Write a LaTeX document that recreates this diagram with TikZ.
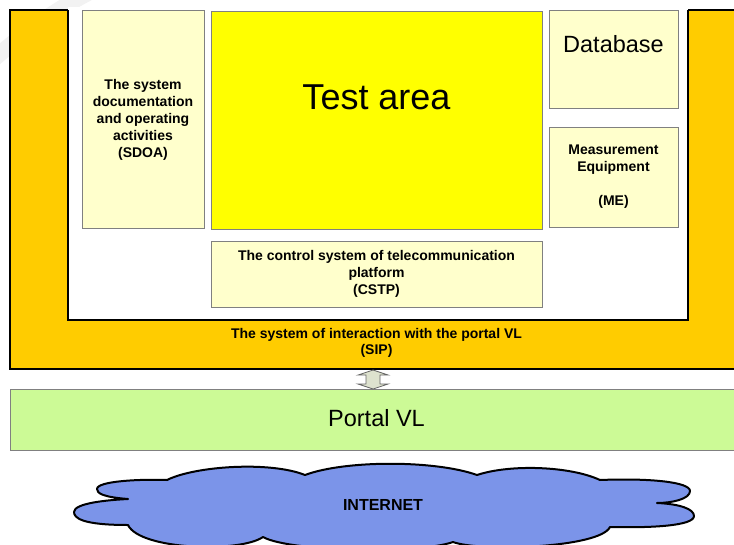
\documentclass[tikz,border=0pt]{standalone}
\usepackage{fontspec}
\setmainfont{Liberation Sans}
\usetikzlibrary{calc}
\definecolor{orangeSIP}{HTML}{FFCC00}
\definecolor{paleY}{HTML}{FFFFCC}
\definecolor{testY}{HTML}{FFFF00}
\definecolor{portalG}{HTML}{CCFA96}
\definecolor{cloudB}{HTML}{7B94E9}
\definecolor{arrowF}{HTML}{DDE2CE}
\definecolor{boxline}{HTML}{808080}
\begin{document}
\begin{tikzpicture}[x=1pt,y=-1pt,
  box/.style={draw=boxline, line width=0.8pt, fill=paleY, inner sep=0pt, align=center,
    font=\fontsize{14}{17}\selectfont\bfseries},
  boldtxt/.style={align=center, inner sep=0pt, font=\fontsize{14}{16}\selectfont\bfseries},
  frameline/.style={draw=black, line width=2pt}]
\useasboundingbox (0,0) rectangle (734,544);
\clip (0,0) rectangle (734,544);
% faint watermark arc
\draw[black!5, line width=16pt] (-5,58) .. controls (25,32) and (55,10) .. (90,-8);
% orange SIP frame (U shape)
\path[frameline, fill=orangeSIP] (10,10) rectangle (745,369);
\fill[white] (68,7) rectangle (688,320);
\draw[frameline] (68,10) -- (68,320) -- (688,320) -- (688,10);
% inner boxes
\node[box, minimum width=122pt, minimum height=218pt] (sdoa) at (143,119.5)
  {The system\\documentation\\and operating\\activities\\(SDOA)};
\node[box, fill=testY, minimum width=331pt, minimum height=218pt] (test) at (376.5,120) {};
\node[font=\fontsize{36}{40}\selectfont, inner sep=0pt] (testlbl) at (376.5,97) {Test area};
\node[box, minimum width=129pt, minimum height=98pt] (db) at (613.5,59) {};
\node[font=\fontsize{23.5}{26}\selectfont, inner sep=0pt] (dblbl) at (613.5,44) {Database};
\node[box, minimum width=129pt, minimum height=100pt] (me) at (613.5,177)
  {Measurement\\Equipment\\[17pt](ME)};
\node[box, minimum width=331pt, minimum height=66pt] (cstp) at (376.5,274)
  {The control system of telecommunication\\platform\\(CSTP)};
% SIP label
\node[boldtxt] (sip) at (376.5,343) {The system of interaction with the portal VL\\(SIP)};
% Portal VL
\node[draw=boxline, line width=0.8pt, fill=portalG, minimum width=740pt, minimum height=61pt,
  inner sep=0pt, anchor=north west] (portal) at (10,389) {};
\node[font=\fontsize{23.5}{26}\selectfont, inner sep=0pt] (portallbl) at (376.5,418) {Portal VL};
% double block arrow between SIP and Portal
\coordinate (link) at (373,379.5);
\draw[draw=black!60, line width=0.8pt, fill=arrowF]
  ($(link)+(0,-9.5)$) -- ($(link)+(15,-4.5)$) -- ($(link)+(7,-4.5)$) -- ($(link)+(7,4.5)$)
  -- ($(link)+(15,4.5)$) -- ($(link)+(0,9.5)$) -- ($(link)+(-15,4.5)$) -- ($(link)+(-7,4.5)$)
  -- ($(link)+(-7,-4.5)$) -- ($(link)+(-15,-4.5)$) -- cycle;
% cloud
\draw[line width=2pt, fill=cloudB, line join=round]
  (167,480) .. controls (195,466) and (270,461) .. (305,475)
  .. controls (345,460) and (435,460) .. (477,475)
  .. controls (510,464) and (570,466) .. (600,480)
  .. controls (650,478) and (690,482) .. (690,491)
  .. controls (690,499) and (672,503) .. (657,503)
  .. controls (680,504) and (694,509) .. (694,516)
  .. controls (694,526) and (650,528) .. (610,527)
  .. controls (600,548) and (480,552) .. (453,542)
  .. controls (420,554) and (290,552) .. (263,537)
  .. controls (240,553) and (140,550) .. (128,525)
  .. controls (82,525) and (74,518) .. (74,512)
  .. controls (74,503) and (108,500) .. (128,499)
  .. controls (102,497) and (97,493) .. (97,489)
  .. controls (97,481) and (140,479) .. (167,480) -- cycle;
\node[font=\fontsize{16}{18}\selectfont\bfseries, inner sep=0pt] (inet) at (383,505) {INTERNET};
\end{tikzpicture}
\end{document}
